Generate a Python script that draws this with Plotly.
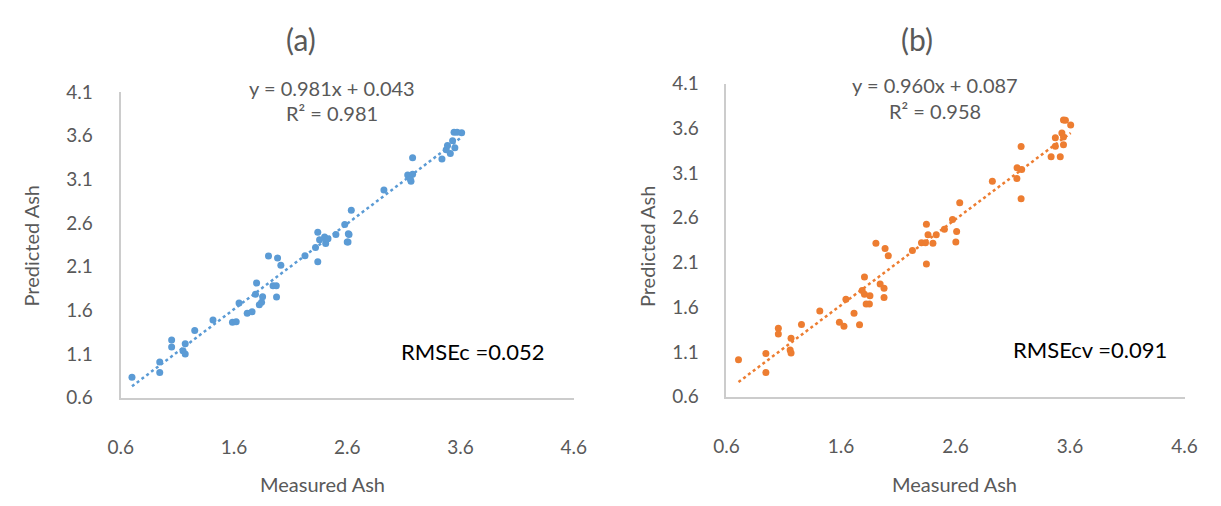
import numpy as np
import plotly.graph_objects as go

# Panel (a) calibration data
meas_a = [0.70, 0.945, 0.945, 1.05, 1.05, 1.17, 1.15, 1.17, 1.254, 1.415, 1.587, 1.62, 1.645, 1.717,
          1.76, 1.79, 1.80, 1.824, 1.844, 1.853, 1.905, 1.945, 1.974, 1.976, 1.985, 2.014, 2.227,
          2.32, 2.34, 2.34, 2.356, 2.40, 2.41, 2.43, 2.50, 2.607, 2.616, 2.578, 2.61, 2.60, 2.636,
          2.924, 3.134, 3.157, 3.163, 3.177, 3.177, 3.436, 3.474, 3.485, 3.51, 3.53, 3.543, 3.55,
          3.61, 3.57]
pred_a = [0.833, 1.008, 0.888, 1.26, 1.18, 1.216, 1.136, 1.10, 1.37, 1.49, 1.464, 1.47, 1.683, 1.566,
          1.585, 1.785, 1.913, 1.665, 1.694, 1.756, 2.222, 1.883, 1.883, 1.752, 2.20, 2.117, 2.227,
          2.32, 2.157, 2.496, 2.41, 2.44, 2.365, 2.42, 2.47, 2.383, 2.47, 2.584, 2.478, 2.383, 2.748,
          2.978, 3.152, 3.105, 3.08, 3.16, 3.35, 3.335, 3.44, 3.49, 3.397, 3.543, 3.642, 3.463,
          3.634, 3.64]

# Panel (b) cross-validation data
meas_b = [0.705, 0.944, 0.944, 1.053, 1.053, 1.164, 1.156, 1.164, 1.255, 1.415, 1.586, 1.626, 1.643,
          1.714, 1.762, 1.805, 1.785, 1.805, 1.853, 1.82, 1.848, 1.905, 1.942, 1.976, 1.976, 1.985,
          2.013, 2.224, 2.303, 2.346, 2.36, 2.338, 2.403, 2.432, 2.603, 2.61, 2.346, 2.503, 2.574,
          2.637, 2.922, 3.136, 3.138, 3.173, 3.178, 3.173, 3.435, 3.472, 3.472, 3.515, 3.529, 3.543,
          3.543, 3.543, 3.606, 3.56]
pred_b = [1.013, 0.87, 1.083, 1.365, 1.30, 1.254, 1.123, 1.088, 1.408, 1.557, 1.432, 1.387, 1.689,
          1.532, 1.404, 1.937, 1.788, 1.745, 1.728, 1.635, 1.635, 2.315, 1.859, 1.813, 1.71, 2.257,
          2.176, 2.233, 2.32, 2.083, 2.41, 2.32, 2.315, 2.41, 2.33, 2.446, 2.528, 2.471, 2.582,
          2.767, 3.009, 3.04, 3.158, 2.812, 3.14, 3.396, 3.282, 3.495, 3.40, 3.282, 3.549, 3.503,
          3.417, 3.692, 3.638, 3.69]

fit_a = (0.981, 0.043)
fit_b = (0.960, 0.087)

x_ticks = [0.6, 1.6, 2.6, 3.6, 4.6]
y_ticks = [0.6, 1.1, 1.6, 2.1, 2.6, 3.1, 3.6, 4.1]

W, H = 1221, 506
BLUE = "#5B9BD5"
ORANGE = "#ED7D31"
GRAY = "#595959"
AXIS = "#CCCCCC"
FONT = "Lato"

fig = go.Figure()

panels = [
    dict(xs=meas_a, ys=pred_a, fit=fit_a, color=BLUE, xa="x", ya="y",
         px=(110, 573), py=(84, 404), title="(a)", tx=294, eq="y = 0.981x + 0.043", r2="R² = 0.981",
         rmse="RMSEc =0.052", eqx=326, eqy=(80, 106), rmx=470, rmy=356, ylab=18, xlab=316),
    dict(xs=meas_b, ys=pred_b, fit=fit_b, color=ORANGE, xa="x2", ya="y2",
         px=(729, 1197), py=(75, 403), title="(b)", tx=924, eq="y = 0.960x + 0.087", r2="R² = 0.958",
         rmse="RMSEcv =0.091", eqx=942, eqy=(76, 104), rmx=1100, rmy=354, ylab=648, xlab=962),
]

annotations = []
for i, p in enumerate(panels):
    xs = np.array(p["xs"])
    fig.add_trace(go.Scatter(x=xs, y=p["ys"], mode="markers", xaxis=p["xa"], yaxis=p["ya"],
                             marker=dict(size=7, color=p["color"]), showlegend=False))
    lx = np.array([xs.min(), xs.max()])
    ly = p["fit"][0] * lx + p["fit"][1]
    fig.add_trace(go.Scatter(x=lx, y=ly, mode="lines", xaxis=p["xa"], yaxis=p["ya"],
                             line=dict(color=p["color"], width=2.5, dash="dot"), showlegend=False))
    sfx = "" if i == 0 else "2"
    dom_x = [p["px"][0] / W, p["px"][1] / W]
    dom_y = [(H - p["py"][1]) / H, (H - p["py"][0]) / H]
    axis_common = dict(showgrid=False, zeroline=False, showline=True, linecolor=AXIS, linewidth=2,
                       ticks="", tickfont=dict(family=FONT, size=19, color=GRAY), fixedrange=True)
    fig.update_layout(**{
        "xaxis" + sfx: dict(domain=dom_x, range=[0.6, 4.6], tickvals=x_ticks,
                            ticktext=[f"{v:.1f}" for v in x_ticks], ticklabelstandoff=32,
                            anchor="y" + sfx, **axis_common),
        "yaxis" + sfx: dict(domain=dom_y, range=[0.6, 4.1], tickvals=y_ticks,
                            ticktext=[f"{v:.1f}" for v in y_ticks], ticklabelstandoff=22,
                            anchor="x" + sfx, **axis_common),
    })
    annotations += [
        dict(text=p["title"], x=p["tx"] / W, y=1 - 28 / H, font=dict(family=FONT, size=30, color=GRAY)),
        dict(text=p["eq"], x=p["eqx"] / W, y=1 - p["eqy"][0] / H, font=dict(family=FONT, size=20, color=GRAY)),
        dict(text=p["r2"], x=p["eqx"] / W, y=1 - p["eqy"][1] / H, font=dict(family=FONT, size=20, color=GRAY)),
        dict(text=p["rmse"], x=p["rmx"] / W, y=1 - p["rmy"] / H, font=dict(family=FONT, size=22, color="black")),
        dict(text="Measured Ash", x=p["xlab"] / W, y=1 - 494 / H, font=dict(family=FONT, size=20, color=GRAY)),
        dict(text="Predicted Ash", x=p["ylab"] / W, y=1 - 245 / H, textangle=-90,
             font=dict(family=FONT, size=20, color=GRAY)),
    ]

for a in annotations:
    a.update(xref="paper", yref="paper", showarrow=False, xanchor="center", yanchor="middle")

fig.update_layout(width=W, height=H, margin=dict(l=0, r=0, t=0, b=0),
                  paper_bgcolor="white", plot_bgcolor="white", annotations=annotations)

fig.write_html("out.html")
